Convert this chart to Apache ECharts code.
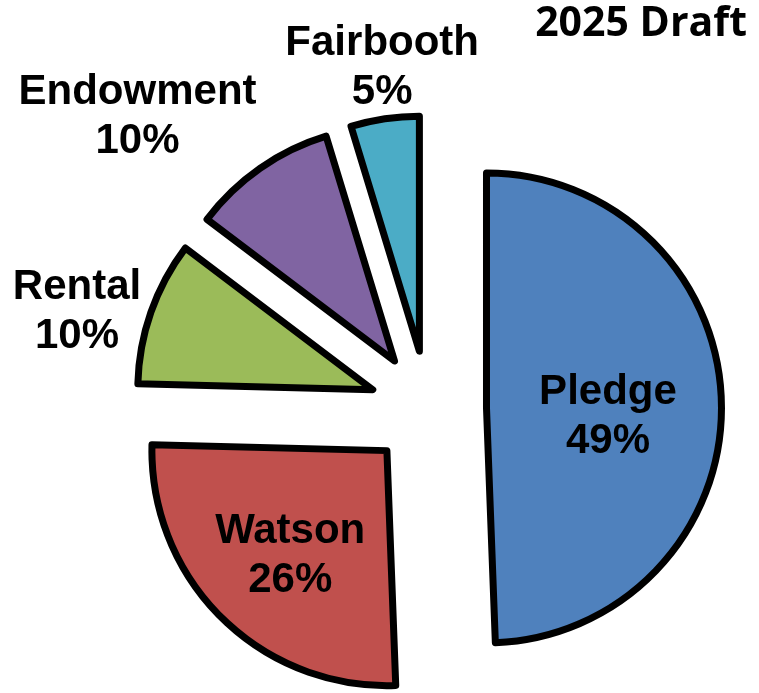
<!DOCTYPE html>
<html>
<head>
<meta charset="utf-8">
<script src="https://cdn.jsdelivr.net/npm/echarts@6/dist/echarts.min.js"></script>
<style>
html,body{margin:0;padding:0;background:#fff;}
#chart{width:759px;height:693px;}
</style>
</head>
<body>
<div id="chart"></div>
<script>
var categories = ['Pledge', 'Watson', 'Rental', 'Endowment', 'Fairbooth'];
var shares = [49.4, 26.0, 9.9, 10.0, 4.7];
var shareLabels = ['49%', '26%', '10%', '10%', '5%'];
var colors = ['#4F81BD', '#C0504D', '#9BBB59', '#8064A2', '#4BACC6'];
var titleText = '2025 Draft';

// label nudges relative to the default "inside" spot (style only)
var labelShift = [[1, 11], [-12, 20], [-182, -38], [-188, -145], [-19.5, -164]];

var chart = echarts.init(document.getElementById('chart'), null, {renderer: 'canvas'});
var data = categories.map(function (name, i) {
  return {name: name, value: shares[i], selected: true, itemStyle: {color: colors[i]}};
});

chart.setOption({
  animation: false,
  backgroundColor: '#ffffff',
  title: {
    text: titleText,
    right: 12,
    top: 4,
    padding: 0,
    textStyle: {fontFamily: 'Open Sans', fontWeight: 'bold', fontSize: 41, color: '#000'}
  },
  series: [{
    type: 'pie',
    center: [428, 409],
    radius: 235,
    startAngle: 90,
    clockwise: true,
    selectedMode: 'multiple',
    selectedOffset: 58.5,
    avoidLabelOverlap: false,
    emphasis: {disabled: true},
    itemStyle: {borderColor: '#000', borderWidth: 7, borderJoin: 'round'},
    label: {
      show: true,
      position: 'inside',
      formatter: function (p) { return p.name + '\n' + shareLabels[p.dataIndex]; },
      fontFamily: 'Liberation Sans, Arial, sans-serif',
      fontWeight: 'bold',
      fontSize: 42,
      lineHeight: 49,
      color: '#000',
      align: 'center'
    },
    labelLine: {show: false},
    labelLayout: function (p) {
      var s = labelShift[p.dataIndex];
      return {dx: s[0], dy: s[1]};
    },
    data: data
  }]
});
</script>
</body>
</html>
